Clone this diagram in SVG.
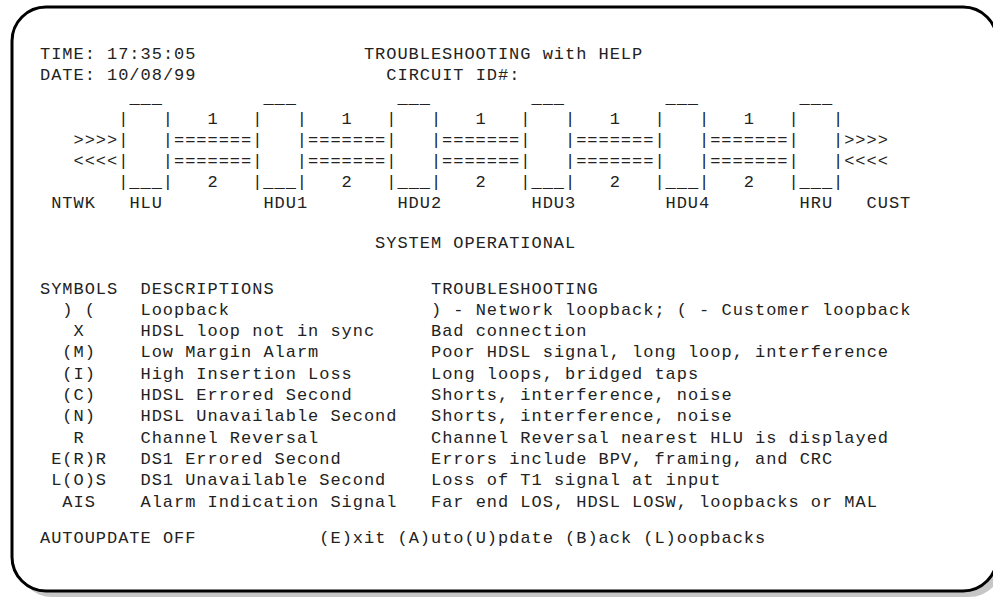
<svg xmlns="http://www.w3.org/2000/svg" width="993" height="601" viewBox="0 0 993 601" xml:space="preserve">
<style>
.t{font-family:"Liberation Mono","DejaVu Sans Mono",monospace;font-size:17px;letter-spacing:0.97px;fill:#222;white-space:pre}
.frame{fill:#fff;stroke:#000;stroke-width:3}
.shadow{fill:#c6c6c6}
</style>
<rect class="shadow" x="18" y="13" width="985" height="584" rx="34" ry="34"/>
<rect class="frame" x="12" y="7" width="985" height="584" rx="34" ry="34"/>
<g id="header">
<text class="t" x="40" y="59">TIME: 17:35:05</text>
<text class="t" x="363.9" y="59">TROUBLESHOOTING with HELP</text>
<text class="t" x="40" y="80">DATE: 10/08/99</text>
<text class="t" x="386.3" y="80">CIRCUIT ID#:</text>
</g>
<g id="NTWK"><text class="t" x="51.2" y="208">NTWK</text></g>
<g id="CUST"><text class="t" x="866.6" y="208">CUST</text></g>
<g id="HLU">
<text class="t" x="129.4" y="103">___</text>
<text class="t" x="118.2" y="124">|   |</text>
<text class="t" x="118.2" y="145">|   |</text>
<text class="t" x="118.2" y="166">|   |</text>
<text class="t" x="118.2" y="187">|___|</text>
<text class="t" x="129.4" y="208">HLU</text>
</g>
<g id="HDU1">
<text class="t" x="263.4" y="103">___</text>
<text class="t" x="252.2" y="124">|   |</text>
<text class="t" x="252.2" y="145">|   |</text>
<text class="t" x="252.2" y="166">|   |</text>
<text class="t" x="252.2" y="187">|___|</text>
<text class="t" x="263.4" y="208">HDU1</text>
</g>
<g id="HDU2">
<text class="t" x="397.4" y="103">___</text>
<text class="t" x="386.3" y="124">|   |</text>
<text class="t" x="386.3" y="145">|   |</text>
<text class="t" x="386.3" y="166">|   |</text>
<text class="t" x="386.3" y="187">|___|</text>
<text class="t" x="397.4" y="208">HDU2</text>
</g>
<g id="HDU3">
<text class="t" x="531.5" y="103">___</text>
<text class="t" x="520.3" y="124">|   |</text>
<text class="t" x="520.3" y="145">|   |</text>
<text class="t" x="520.3" y="166">|   |</text>
<text class="t" x="520.3" y="187">|___|</text>
<text class="t" x="531.5" y="208">HDU3</text>
</g>
<g id="HDU4">
<text class="t" x="665.5" y="103">___</text>
<text class="t" x="654.4" y="124">|   |</text>
<text class="t" x="654.4" y="145">|   |</text>
<text class="t" x="654.4" y="166">|   |</text>
<text class="t" x="654.4" y="187">|___|</text>
<text class="t" x="665.5" y="208">HDU4</text>
</g>
<g id="HRU">
<text class="t" x="799.6" y="103">___</text>
<text class="t" x="788.4" y="124">|   |</text>
<text class="t" x="788.4" y="145">|   |</text>
<text class="t" x="788.4" y="166">|   |</text>
<text class="t" x="788.4" y="187">|___|</text>
<text class="t" x="799.6" y="208">HRU</text>
</g>
<g id="connectors">
<text class="t" x="73.5" y="145">&gt;&gt;&gt;&gt;</text>
<text class="t" x="73.5" y="166">&lt;&lt;&lt;&lt;</text>
<text class="t" x="844.2" y="145">&gt;&gt;&gt;&gt;</text>
<text class="t" x="844.2" y="166">&lt;&lt;&lt;&lt;</text>
<text class="t" x="207.6" y="124">1</text><text class="t" x="174.0" y="145">=======</text><text class="t" x="174.0" y="166">=======</text><text class="t" x="207.6" y="187">2</text>
<text class="t" x="341.6" y="124">1</text><text class="t" x="308.1" y="145">=======</text><text class="t" x="308.1" y="166">=======</text><text class="t" x="341.6" y="187">2</text>
<text class="t" x="475.6" y="124">1</text><text class="t" x="442.1" y="145">=======</text><text class="t" x="442.1" y="166">=======</text><text class="t" x="475.6" y="187">2</text>
<text class="t" x="609.7" y="124">1</text><text class="t" x="576.2" y="145">=======</text><text class="t" x="576.2" y="166">=======</text><text class="t" x="609.7" y="187">2</text>
<text class="t" x="743.7" y="124">1</text><text class="t" x="710.2" y="145">=======</text><text class="t" x="710.2" y="166">=======</text><text class="t" x="743.7" y="187">2</text>
</g>
<g id="status"><text class="t" x="375.1" y="248">SYSTEM OPERATIONAL</text></g>
<g id="legend">
<text class="t" x="40" y="293.5">SYMBOLS</text><text class="t" x="140.5" y="293.5">DESCRIPTIONS</text><text class="t" x="431" y="293.5">TROUBLESHOOTING</text>
<text class="t" x="62.3" y="314.8">) (</text><text class="t" x="140.5" y="314.8">Loopback</text><text class="t" x="431" y="314.8">) - Network loopback; ( - Customer loopback</text>
<text class="t" x="73.5" y="336.1">X</text><text class="t" x="140.5" y="336.1">HDSL loop not in sync</text><text class="t" x="431" y="336.1">Bad connection</text>
<text class="t" x="62.3" y="357.4">(M)</text><text class="t" x="140.5" y="357.4">Low Margin Alarm</text><text class="t" x="431" y="357.4">Poor HDSL signal, long loop, interference</text>
<text class="t" x="62.3" y="378.7">(I)</text><text class="t" x="140.5" y="378.7">High Insertion Loss</text><text class="t" x="431" y="378.7">Long loops, bridged taps</text>
<text class="t" x="62.3" y="400">(C)</text><text class="t" x="140.5" y="400">HDSL Errored Second</text><text class="t" x="431" y="400">Shorts, interference, noise</text>
<text class="t" x="62.3" y="421.3">(N)</text><text class="t" x="140.5" y="421.3">HDSL Unavailable Second</text><text class="t" x="431" y="421.3">Shorts, interference, noise</text>
<text class="t" x="73.5" y="442.6">R</text><text class="t" x="140.5" y="442.6">Channel Reversal</text><text class="t" x="431" y="442.6">Channel Reversal nearest HLU is displayed</text>
<text class="t" x="51.2" y="463.9">E(R)R</text><text class="t" x="140.5" y="463.9">DS1 Errored Second</text><text class="t" x="431" y="463.9">Errors include BPV, framing, and CRC</text>
<text class="t" x="51.2" y="485.2">L(O)S</text><text class="t" x="140.5" y="485.2">DS1 Unavailable Second</text><text class="t" x="431" y="485.2">Loss of T1 signal at input</text>
<text class="t" x="62.3" y="506.5">AIS</text><text class="t" x="140.5" y="506.5">Alarm Indication Signal</text><text class="t" x="431" y="506.5">Far end LOS, HDSL LOSW, loopbacks or MAL</text>
</g>
<g id="footer">
<text class="t" x="40" y="542.5">AUTOUPDATE OFF</text>
<text class="t" x="319.3" y="542.5">(E)xit (A)uto(U)pdate (B)ack (L)oopbacks</text>
</g>
</svg>
